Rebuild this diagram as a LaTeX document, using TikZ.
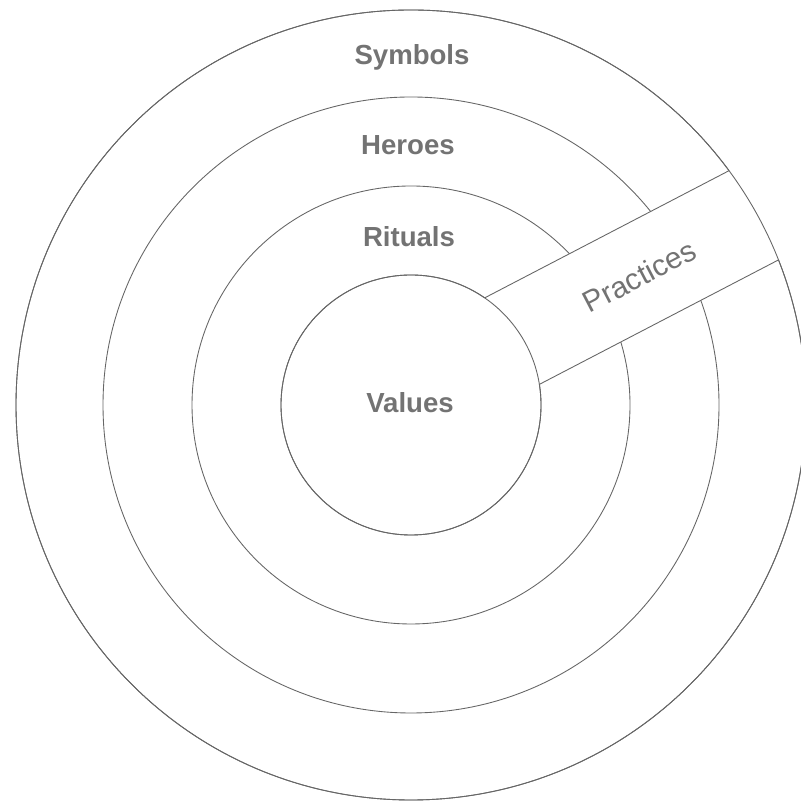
\documentclass[tikz,border=0pt]{standalone}
\usepackage{fontspec}
\setmainfont{Liberation Sans}
\usepackage{tikz}
\usetikzlibrary{positioning}

\begin{document}
\begin{tikzpicture}[
    ring/.style={draw=black!60, line width=0.5pt},
    lbl/.style={text=black!55, font=\fontsize{15.7}{18}\selectfont\bfseries}]
  \useasboundingbox (0,0) rectangle (16,16.06);
  \coordinate (c) at (8.22,7.96);

  % Cercles
  \foreach \r in {7.90, 6.16, 4.38, 2.60} {
    \draw[ring] (c) circle (\r);
  }

  % Bande des pratiques
  \begin{scope}[shift={(c)}, rotate=27.5]
    \fill[white] (2.0,-0.82) rectangle (8.1,1.22);
    \draw[ring] (2.296,1.22) -- (7.805,1.22);
    \draw[ring] (2.467,-0.82) -- (7.857,-0.82);
    \node[lbl, font=\fontsize{17}{19}\selectfont, rotate=27.5]
        (practices) at (5.24,0.18) {Practices};
  \end{scope}
  \draw[ring] (c) circle (2.60);
  \draw[ring] (c) circle (7.90);

  % Couches
  \node[lbl] (symbols) at (8.24,14.92) {Symbols};
  \node[lbl] (heroes)  at (8.16,13.16) {Heroes};
  \node[lbl] (rituals) at (8.18,11.32) {Rituals};
  \node[lbl] (values)  at (8.20,8.00)  {Values};
\end{tikzpicture}
\end{document}
